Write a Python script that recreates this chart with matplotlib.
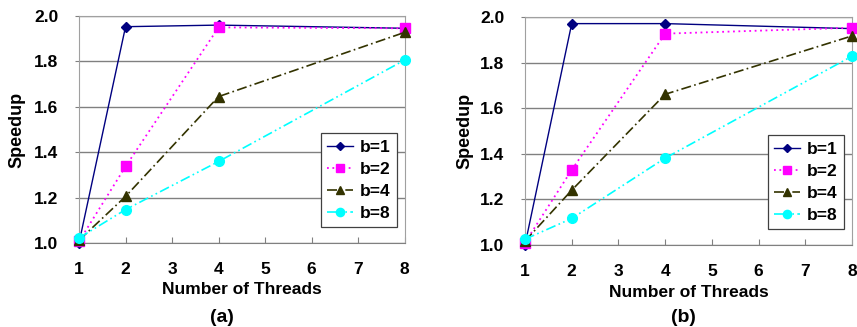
import matplotlib
matplotlib.use("Agg")
import matplotlib.pyplot as plt

threads = [1, 2, 4, 8]
series_labels = ["b=1", "b=2", "b=4", "b=8"]
speedup_a = {
    "b=1": [1.00, 1.953, 1.960, 1.946],
    "b=2": [1.007, 1.337, 1.950, 1.946],
    "b=4": [1.012, 1.205, 1.645, 1.928],
    "b=8": [1.022, 1.147, 1.359, 1.806],
}
speedup_b = {
    "b=1": [1.00, 1.971, 1.971, 1.949],
    "b=2": [1.010, 1.329, 1.927, 1.953],
    "b=4": [1.017, 1.240, 1.661, 1.917],
    "b=8": [1.025, 1.116, 1.381, 1.828],
}
panel_labels = ["(a)", "(b)"]
xticks = [1, 2, 3, 4, 5, 6, 7, 8]
yticks = [1.0, 1.2, 1.4, 1.6, 1.8, 2.0]

styles = {
    "b=1": dict(color="#000080", marker="D", markersize=5, linestyle="-", linewidth=1.0),
    "b=2": dict(color="#FF00FF", marker="s", markersize=7, linestyle=(0, (1, 2)), linewidth=1.3),
    "b=4": dict(color="#333300", marker="^", markersize=7, linestyle=(0, (6, 2, 1, 2)), linewidth=1.2),
    "b=8": dict(color="#00FFFF", marker="o", markersize=7, linestyle=(0, (6, 2, 1, 2, 1, 2)), linewidth=1.2),
}

plt.rcParams['font.family'] = ['Liberation Sans', 'DejaVu Sans']

fig = plt.figure(figsize=(8.57, 3.27), dpi=100)
rects = [[0.0922, 0.257, 0.380, 0.694], [0.6126, 0.251, 0.3816, 0.697]]
label_x = [222 / 857, 683 / 857]
ylabel_x = [-0.19, -0.183]
datasets = [speedup_a, speedup_b]

for rect, data, plab, lx, ylx in zip(rects, datasets, panel_labels, label_x, ylabel_x):
    ax = fig.add_axes(rect)
    for name in series_labels:
        ax.plot(threads, data[name], label=name, clip_on=False, zorder=3, **styles[name])
    ax.set_xlim(1, 8)
    ax.set_ylim(1.0, 2.0)
    ax.set_xticks(xticks)
    ax.set_yticks(yticks)
    ax.set_xticklabels([str(t) for t in xticks], fontsize=12.5, fontweight="bold")
    ax.set_yticklabels([f"{y:.1f}" for y in yticks], fontsize=12.5, fontweight="bold")
    ax.tick_params(axis="x", direction="in", length=4, color="#808080", pad=14)
    ax.tick_params(axis="y", direction="out", length=3, color="#808080", pad=12)
    ax.yaxis.grid(True, color="#808080", linewidth=1.0)
    ax.set_axisbelow(True)
    for s in ["top", "right", "left"]:
        ax.spines[s].set_color("#A0A0A0")
    ax.spines["bottom"].set_color("#808080")
    ax.set_xlabel("Number of Threads", fontsize=12.5, fontweight="bold")
    ax.xaxis.set_label_coords(0.5, -0.207)
    ax.xaxis.label.set_va("center")
    ax.set_ylabel("Speedup", fontsize=13, fontweight="bold")
    ax.yaxis.set_label_coords(ylx, 0.5)
    ax.yaxis.label.set_va("center")
    leg = ax.legend(loc="lower right", bbox_to_anchor=(0.975, 0.07), fancybox=False,
                    edgecolor="#404040", framealpha=1, prop=dict(size=12.5, weight="bold"),
                    handlelength=1.5, handletextpad=0.4, borderpad=0.35, labelspacing=0.4,
                    borderaxespad=0, markerscale=0.85)
    leg.get_frame().set_linewidth(0.9)
    fig.text(lx, 1 - 318 / 327, plab, ha="center", va="center", fontsize=14, fontweight="bold")

fig.savefig("out.png", dpi=100)
